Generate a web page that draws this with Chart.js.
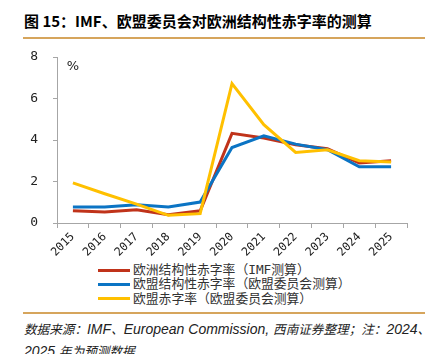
<!DOCTYPE html>
<html>
<head>
<meta charset="utf-8">
<script src="https://cdn.jsdelivr.net/npm/chart.js@4.4.1/dist/chart.umd.min.js"></script>
<style>
  html, body { margin: 0; padding: 0; background: #fff; }
  body { width: 433px; height: 354px; position: relative; overflow: hidden; }
  #title { position: absolute; left: 24px; top: 12px; font: bold 15px "Noto Sans CJK SC", sans-serif; line-height: 18px; color: #000; white-space: nowrap; }
  .rule { position: absolute; left: 23px; width: 402px; height: 2px; background: #D6A55C; }
  #wrap { position: absolute; left: 0; top: 0; width: 433px; height: 262px; }
  #legend { position: absolute; left: 98px; top: 263px; font: 12.8px "DejaVu Sans Mono", "Noto Sans CJK SC", sans-serif; color: #333; }
  .li { height: 14.3px; line-height: 14.3px; white-space: nowrap; display: flex; align-items: center; }
  .sw { display: inline-block; width: 32px; height: 3px; margin-right: 3px; }
  #src { position: absolute; left: 24px; top: 318px; line-height: 22px; color: #222; font-style: italic; white-space: nowrap; }
  #src .c { font: italic 12.6px "Noto Sans CJK SC", sans-serif; }
  #src .l { font: italic 14px "Liberation Sans", Arial, sans-serif; }
</style>
</head>
<body>
<div id="title">图 15：IMF、欧盟委员会对欧洲结构性赤字率的测算</div>
<div class="rule" style="top:37px"></div>
<div id="wrap"><canvas id="c" width="433" height="262"></canvas></div>
<div id="legend"></div>
<div class="rule" style="top:312px"></div>
<div id="src"><span class="c">数据来源：</span><span class="l">IMF</span><span class="c">、</span><span class="l">European Commission, </span><span class="c">西南证券整理；注：</span><span class="l">2024</span><span class="c">、</span><br><span class="l">2025 </span><span class="c">年为预测数据</span></div>
<script>
const years = ["2015","2016","2017","2018","2019","2020","2021","2022","2023","2024","2025"];
const imfStructural = [0.59, 0.53, 0.64, 0.40, 0.59, 4.32, 4.10, 3.77, 3.58, 2.89, 3.00];
const ecStructural = [0.77, 0.77, 0.88, 0.77, 1.01, 3.64, 4.20, 3.80, 3.53, 2.71, 2.71];
const ecDeficit = [1.93, 1.41, 0.91, 0.37, 0.45, 6.72, 4.74, 3.40, 3.53, 3.00, 2.94];
const seriesLabels = ["欧洲结构性赤字率（IMF测算）", "欧盟结构性赤字率（欧盟委员会测算）", "欧盟赤字率（欧盟委员会测算）"];
const yTicks = [0, 2, 4, 6, 8];
const colors = ["#C0331A", "#0B74C4", "#FFC000"];

const datasets = [imfStructural, ecStructural, ecDeficit].map((d, i) => ({
  label: seriesLabels[i],
  data: d,
  borderColor: colors[i],
  backgroundColor: colors[i],
  borderWidth: 3,
  pointRadius: 0,
  tension: 0,
  order: [2, 1, 0][i]
}));

const leg = document.getElementById('legend');
datasets.forEach(ds => {
  const row = document.createElement('div');
  row.className = 'li';
  const sw = document.createElement('span');
  sw.className = 'sw';
  sw.style.background = ds.borderColor;
  row.appendChild(sw);
  row.appendChild(document.createTextNode(ds.label));
  leg.appendChild(row);
});

const pctPlugin = {
  id: 'pct',
  afterDraw(chart) {
    const ctx = chart.ctx;
    ctx.save();
    ctx.font = '13px "DejaVu Sans", sans-serif';
    ctx.fillStyle = '#222';
    ctx.textAlign = 'center';
    ctx.textBaseline = 'middle';
    ctx.fillText('%', chart.chartArea.left + 16, chart.chartArea.top + 10);
    ctx.restore();
  }
};

new Chart(document.getElementById('c'), {
  type: 'line',
  data: { labels: years, datasets },
  plugins: [pctPlugin],
  options: {
    responsive: false,
    animation: false,
    devicePixelRatio: 1,
    layout: { padding: { top: 57, right: 26, left: 0, bottom: 0 } },
    plugins: { legend: { display: false }, tooltip: { enabled: false } },
    scales: {
      x: {
        offset: true,
        grid: { display: true, drawOnChartArea: false, offset: true, tickLength: 5, color: '#A6A6A6' },
        border: { color: '#A6A6A6', width: 1 },
        ticks: { font: { family: 'DejaVu Sans Mono', size: 11.5 }, color: '#222', maxRotation: 45, minRotation: 45, autoSkip: false, padding: 2 },
        afterFit(s) { s.height = 39; }
      },
      y: {
        min: 0, max: 8,
        afterBuildTicks(s) { s.ticks = yTicks.map(v => ({ value: v })); },
        grid: { display: true, drawOnChartArea: false, tickLength: 4, color: '#A6A6A6' },
        border: { color: '#A6A6A6', width: 1 },
        ticks: { font: { family: 'DejaVu Sans Mono', size: 13 }, color: '#222', padding: 15 },
        afterFit(s) { s.width = 57; }
      }
    }
  }
});
</script>
</body>
</html>
